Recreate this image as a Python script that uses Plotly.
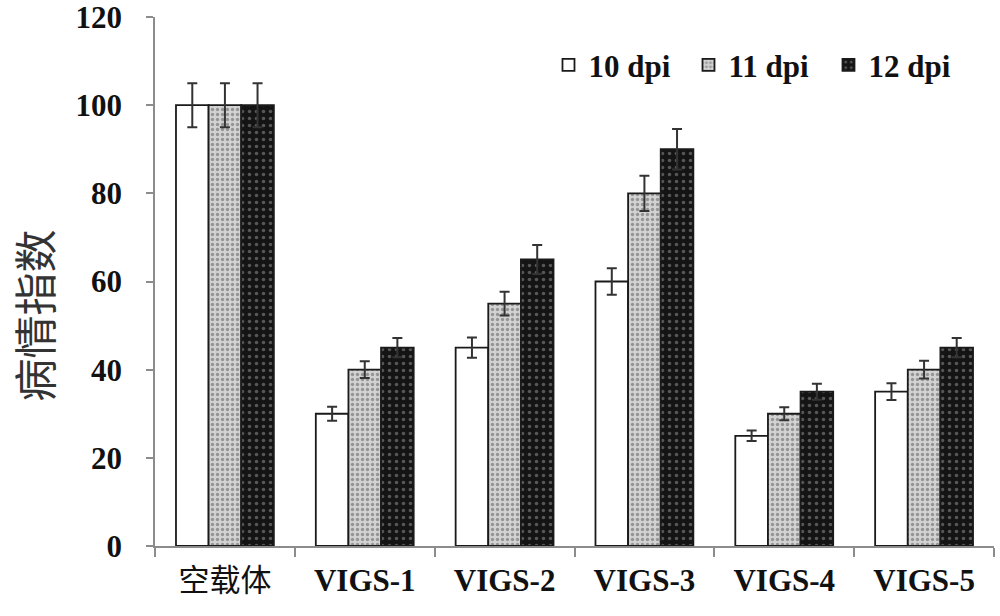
import plotly.graph_objects as go

categories = ["空载体", "VIGS-1", "VIGS-2", "VIGS-3", "VIGS-4", "VIGS-5"]
cat_labels = ["空载体", "<b>VIGS-1</b>", "<b>VIGS-2</b>", "<b>VIGS-3</b>", "<b>VIGS-4</b>", "<b>VIGS-5</b>"]
series_names = ["10 dpi", "11 dpi", "12 dpi"]
v10 = [100, 30, 45, 60, 25, 35]
v11 = [100, 40, 55, 80, 30, 40]
v12 = [100, 45, 65, 90, 35, 45]
e10 = [5, 1.6, 2.3, 3.0, 1.2, 1.9]
e11 = [5, 1.9, 2.7, 4.0, 1.5, 2.0]
e12 = [5, 2.2, 3.3, 4.6, 1.8, 2.2]
y_ticks = [0, 20, 40, 60, 80, 100, 120]
y_title = "病情指数"

values = [v10, v11, v12]
errors = [e10, e11, e12]
patterns = [
    dict(shape="", bgcolor="white"),
    dict(shape=".", bgcolor="#d2d2d2", fgcolor="#555555", size=5, solidity=0.35),
    dict(shape=".", bgcolor="#141414", fgcolor="#9a9a9a", size=7, solidity=0.2),
]

fig = go.Figure()
for name, vals, errs, pat in zip(series_names, values, errors, patterns):
    fig.add_trace(go.Bar(
        x=categories, y=vals, name=f"<b>{name}</b>",
        marker=dict(color="white", pattern=pat, line=dict(color="#1a1a1a", width=1.8)),
        error_y=dict(type="data", array=errs, visible=True, color="#333333", thickness=2, width=5),
    ))

fig.update_layout(
    width=1000, height=616,
    barmode="group", bargap=0.3, bargroupgap=0,
    plot_bgcolor="white", paper_bgcolor="white",
    margin=dict(l=155, r=6, t=17, b=70, autoexpand=False),
    showlegend=True,
    legend=dict(
        orientation="h", x=0.469, y=0.909, xanchor="left", yanchor="middle",
        font=dict(family="Liberation Serif", size=31, color="#111111"),
        entrywidth=95, entrywidthmode="pixels", bgcolor="rgba(0,0,0,0)",
        itemwidth=30, tracegroupgap=0,
    ),
    font=dict(family="Liberation Serif, Noto Sans CJK SC", color="#111111"),
    annotations=[dict(
        text=y_title, textangle=-90, xref="paper", yref="paper",
        x=-0.1454, y=0.4356, xanchor="center", yanchor="middle", showarrow=False,
        font=dict(family="Noto Sans CJK SC", size=43, color="#333333"),
    )],
)
fig.update_xaxes(
    tickvals=categories, ticktext=cat_labels,
    tickfont=dict(family="Liberation Serif, Noto Sans CJK SC", size=31, color="#111111"),
    showline=True, linecolor="#8c8c8c", linewidth=1.5,
    ticks="outside", tickson="boundaries", ticklen=9, tickcolor="#8c8c8c", tickwidth=1.5,
    ticklabelstandoff=6, automargin=False, ticklabeloverflow="allow",
    showgrid=False,
)
fig.update_yaxes(
    range=[0, 120], tickvals=y_ticks, ticktext=[f"<b>{t}</b>" for t in y_ticks],
    tickfont=dict(family="Liberation Serif", size=31, color="#111111"),
    showline=True, linecolor="#8c8c8c", linewidth=1.5,
    ticks="outside", ticklen=7, tickcolor="#8c8c8c", tickwidth=1.5,
    ticklabelstandoff=18, automargin=False, ticklabeloverflow="allow",
    showgrid=False, zeroline=False,
)

fig.write_html("out.html")
